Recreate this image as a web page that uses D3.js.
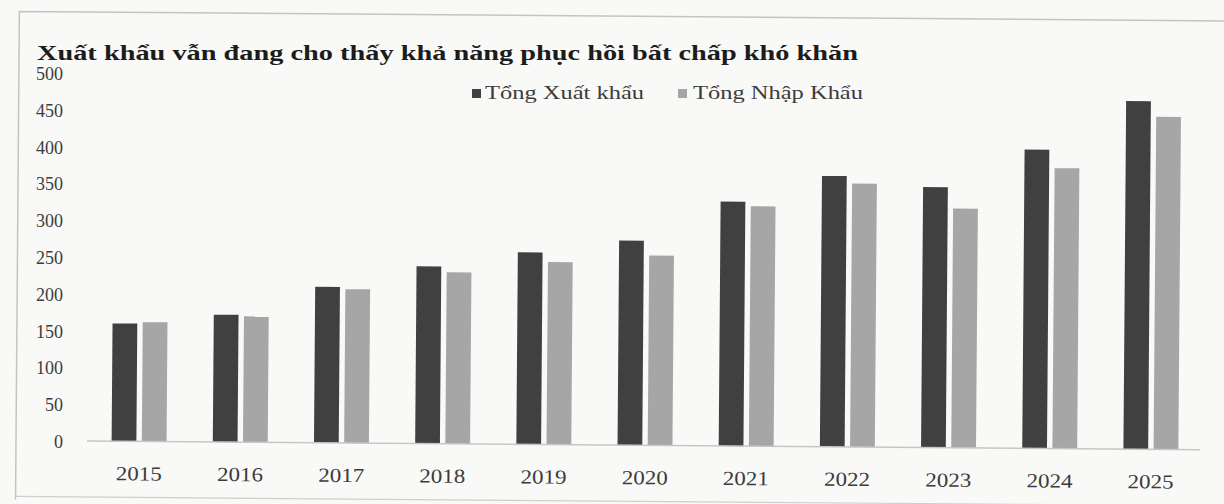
<!DOCTYPE html>
<html>
<head>
<meta charset="utf-8">
<script src="https://cdn.jsdelivr.net/npm/d3@7"></script>
<style>
  html, body { margin: 0; padding: 0; background: #f9f9f8; }
  svg { display: block; }
  text { font-family: "Liberation Serif", "Times New Roman", serif; }
</style>
</head>
<body>
<svg id="chart" width="1224" height="504"></svg>
<script>
// Years on the category axis
const years = ["2015","2016","2017","2018","2019","2020","2021","2022","2023","2024","2025"];
// Total exports and imports (billion USD)
const exportsTotal = [160, 173, 212, 241, 261, 278, 332, 368, 354, 406, 473];
const importsTotal = [162, 171, 209, 233, 248, 258, 326, 358, 325, 381, 452];
const seriesNames = ["Tổng Xuất khẩu", "Tổng Nhập Khẩu"];
const yTicks = [0, 50, 100, 150, 200, 250, 300, 350, 400, 450, 500];
const titleText = "Xuất khẩu vẫn đang cho thấy khả năng phục hồi bất chấp khó khăn";

const colors = ["#404040", "#a6a6a6"];
const svg = d3.select("#chart");

const y = d3.scaleLinear().domain([0, 500]).range([441, 73]);
const x0 = d3.scaleBand().domain(years).range([89, 1201]).paddingInner(0.457).paddingOuter(0.2235);
const x1 = d3.scaleBand().domain([0, 1]).range([0, x0.bandwidth()]).paddingInner(0.18);

// Slightly tilted plotting layer (frame, bars, baseline, year labels)
const plot = svg.append("g").attr("transform", "rotate(0.45, 90, 441)");

// Frame
plot.append("path")
  .attr("d", "M16,500 L16,12 L1230,12")
  .attr("fill", "none").attr("stroke", "#c4c4c4").attr("stroke-width", 1.5);
plot.append("line")
  .attr("x1", 16).attr("x2", 1230).attr("y1", 497).attr("y2", 497)
  .attr("stroke", "#cfcfcf").attr("stroke-width", 1.2);

// Bars
const rows = years.map((yr, i) => ({ yr, vals: [exportsTotal[i], importsTotal[i]] }));
const grp = plot.selectAll("g.year").data(rows).join("g")
  .attr("class", "year")
  .attr("transform", d => `translate(${x0(d.yr)},0)`);
grp.selectAll("rect").data(d => d.vals.map((v, k) => ({ v, k }))).join("rect")
  .attr("x", d => x1(d.k))
  .attr("width", x1.bandwidth())
  .attr("y", d => y(d.v))
  .attr("height", d => y(0) - y(d.v))
  .attr("fill", d => colors[d.k]);

// Baseline
plot.append("line")
  .attr("x1", 87).attr("x2", 1200)
  .attr("y1", y(0)).attr("y2", y(0))
  .attr("stroke", "#c6c6c6").attr("stroke-width", 1.6);

// Year labels
const xAxis = d3.axisBottom(x0).tickSize(0).tickPadding(0);
const xg = plot.append("g").attr("transform", `translate(0,${y(0)})`).call(xAxis);
xg.select(".domain").remove();
xg.selectAll("text")
  .attr("dy", null).attr("y", 39)
  .attr("font-size", 20)
  .attr("font-family", "Liberation Serif, serif")
  .attr("fill", "#3c3c3c")
  .attr("textLength", 46).attr("lengthAdjust", "spacingAndGlyphs");

// Value axis labels
const yAxis = d3.axisLeft(y).tickValues(yTicks).tickSize(0).tickPadding(0);
const yg = svg.append("g").attr("transform", "translate(63,0)").call(yAxis);
yg.select(".domain").remove();
yg.selectAll("text")
  .attr("font-size", 18)
  .attr("font-family", "Liberation Serif, serif")
  .attr("fill", "#3c3c3c")
  .attr("dy", "0.36em");

// Title
svg.append("text")
  .attr("x", 37).attr("y", 60)
  .attr("font-size", 22).attr("font-weight", "bold")
  .attr("fill", "#1c1c1c")
  .attr("textLength", 821).attr("lengthAdjust", "spacingAndGlyphs")
  .text(titleText);

// Legend
const legendItems = [
  { name: seriesNames[0], color: colors[0], mx: 472, tx: 485, w: 159 },
  { name: seriesNames[1], color: colors[1], mx: 678, tx: 693, w: 170 }
];
const lg = svg.append("g");
lg.selectAll("rect").data(legendItems).join("rect")
  .attr("x", d => d.mx).attr("y", 89).attr("width", 9).attr("height", 9)
  .attr("fill", d => d.color);
lg.selectAll("text").data(legendItems).join("text")
  .attr("x", d => d.tx).attr("y", 99)
  .attr("font-size", 18).attr("fill", "#3c3c3c")
  .attr("textLength", d => d.w).attr("lengthAdjust", "spacingAndGlyphs")
  .text(d => d.name);
</script>
</body>
</html>
